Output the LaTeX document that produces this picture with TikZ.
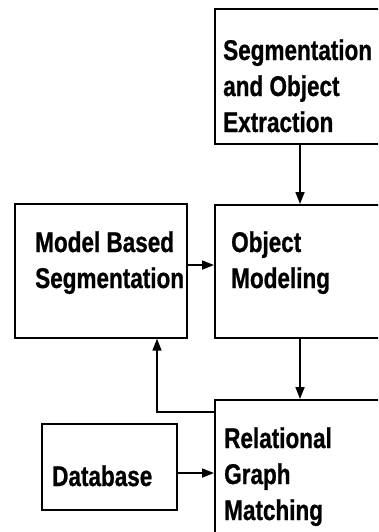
\documentclass[tikz,border=0pt]{standalone}
\usepackage{fontspec}
\setmainfont{Liberation Sans}[FakeStretch=0.79, BoldFeatures={FakeBold=0.8}]
\usetikzlibrary{arrows.meta}
\tikzset{
  box/.style={draw, line width=1.7pt, rectangle, inner sep=0pt, anchor=north west},
  lbl/.style={anchor=base west, inner sep=0pt, align=left,
    font=\fontsize{28.5pt}{36pt}\selectfont\bfseries},
  arr/.style={line width=1.7pt, -{Triangle[length=12pt,width=9pt]}},
}
\begin{document}
\begin{tikzpicture}[x=1pt,y=-1pt]
\useasboundingbox (0,0) rectangle (378,532);
\clip (0,0) rectangle (378,532);
% boxes
\node[box, minimum width=186pt, minimum height=135pt] (seg) at (214,8) {};
\node[box, minimum width=172pt, minimum height=134pt] (mbs) at (14,203) {};
\node[box, minimum width=186pt, minimum height=133pt] (om) at (214,204) {};
\node[box, minimum width=186pt, minimum height=160pt] (rgm) at (214,399) {};
\node[box, minimum width=135pt, minimum height=86pt] (db) at (41,423) {};
% labels (anchored at the baseline of their last line)
\node[lbl] (tseg) at (223,132) {Segmentation\\and Object\\Extraction};
\node[lbl] (tmbs) at (35,288) {Model Based\\Segmentation};
\node[lbl] (tom) at (231,288) {Object\\Modeling};
\node[lbl] (trgm) at (224,520) {Relational\\Graph\\Matching};
\node[lbl] (tdb) at (52,486) {Database};
% connectors
\coordinate (vx) at (300,0);
\coordinate (fx) at (157,0);
\coordinate (hy1) at (0,265);
\coordinate (hy2) at (0,473);
\coordinate (hy3) at (0,412);
\draw[arr] (seg.south -| vx) -- (om.north -| vx);
\draw[arr] (om.south -| vx) -- (rgm.north -| vx);
\draw[arr] (mbs.east |- hy1) -- (om.west |- hy1);
\draw[arr] (db.east |- hy2) -- (rgm.west |- hy2);
\draw[arr] (rgm.west |- hy3) -| (mbs.south -| fx);
\end{tikzpicture}
\end{document}
